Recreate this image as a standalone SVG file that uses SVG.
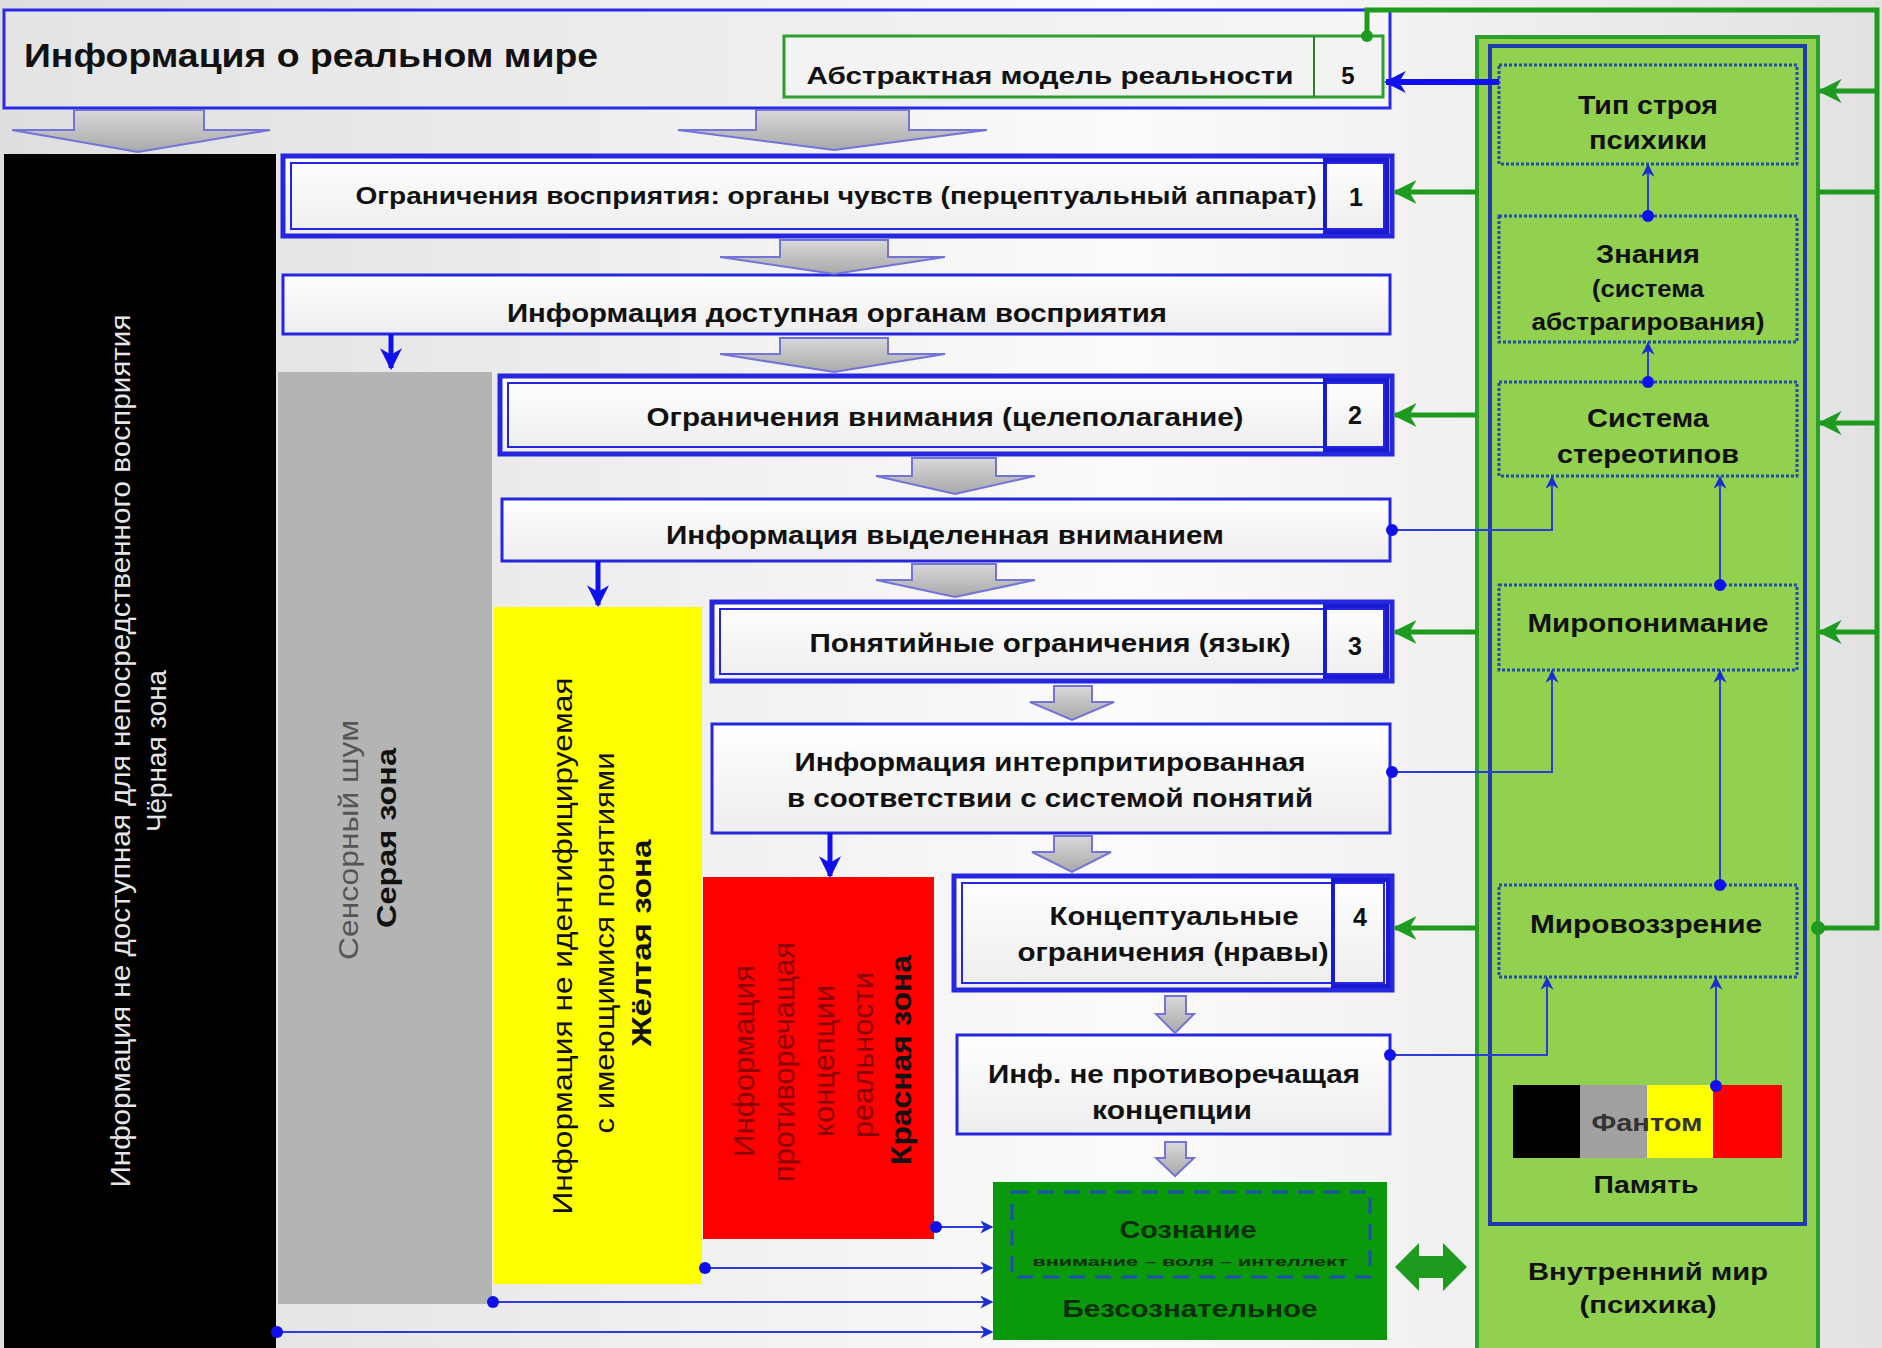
<svg xmlns="http://www.w3.org/2000/svg" width="1882" height="1348" viewBox="0 0 1882 1348">
<defs>
  <linearGradient id="bg" x1="0" y1="0" x2="1" y2="0">
    <stop offset="0" stop-color="#dedede"/>
    <stop offset="0.6" stop-color="#fbfbfb"/>
    <stop offset="1" stop-color="#e2e2e2"/>
  </linearGradient>
  <linearGradient id="boxfill" x1="0" y1="0" x2="0" y2="1">
    <stop offset="0" stop-color="#ffffff"/>
    <stop offset="1" stop-color="#ededed"/>
  </linearGradient>
  <linearGradient id="topfill" x1="0" y1="0" x2="1" y2="0">
    <stop offset="0" stop-color="#e4e4e4"/>
    <stop offset="1" stop-color="#f6f6f6"/>
  </linearGradient>
  <linearGradient id="arrfill" x1="0" y1="0" x2="0" y2="1">
    <stop offset="0" stop-color="#d8d8d8"/>
    <stop offset="1" stop-color="#a9a9a9"/>
  </linearGradient>
  <marker id="ga" viewBox="0 0 10 10" refX="9" refY="5" markerWidth="24" markerHeight="24" markerUnits="userSpaceOnUse" orient="auto">
    <path d="M0,0 L10,5 L0,10 L3,5 z" fill="#1e9a1e"/>
  </marker>
  <marker id="ba" viewBox="0 0 10 10" refX="9" refY="5" markerWidth="22" markerHeight="22" markerUnits="userSpaceOnUse" orient="auto">
    <path d="M0,0 L10,5 L0,10 L3,5 z" fill="#1010ee"/>
  </marker>
  <marker id="bs" viewBox="0 0 10 10" refX="9" refY="5" markerWidth="13" markerHeight="13" markerUnits="userSpaceOnUse" orient="auto">
    <path d="M0,0 L10,5 L0,10 L3,5 z" fill="#1a2fd0"/>
  </marker>
</defs>
<style>
  .t{font-family:"Liberation Sans",Arial,sans-serif;font-weight:bold;fill:#111;}
  .r{font-family:"Liberation Sans",Arial,sans-serif;font-weight:normal;}
  .box{fill:url(#boxfill);stroke:#2626e0;stroke-width:3;}
  .cbox{fill:url(#boxfill);stroke:#2626e0;stroke-width:5;}
  .cin{fill:none;stroke:#2626e0;stroke-width:2;}
  .cell{fill:none;stroke:#1a1ad0;stroke-width:4;}
  .dot{fill:none;stroke:#1f4fa8;stroke-width:3;stroke-dasharray:3 2;}
  .garr{fill:none;stroke:#1e9a1e;stroke-width:5;}
  .bthin{fill:none;stroke:#2b3fd6;stroke-width:2;}
  .bthick{fill:none;stroke:#1010ee;stroke-width:5;}
  .bd{fill:#1010ee;}
  .gray{fill:url(#arrfill);stroke:#7474d8;stroke-width:2;}
</style>

<rect x="0" y="0" width="1882" height="1348" fill="url(#bg)"/>

<!-- zones -->
<g id="zone-black">
  <rect x="4" y="154" width="272" height="1194" fill="#000"/>
  <text class="r" transform="translate(130,751) rotate(-90)" text-anchor="middle" font-size="27" fill="#e6e6e6" textLength="873" lengthAdjust="spacingAndGlyphs">Информация не доступная для непосредственного восприятия</text>
  <text class="r" transform="translate(166,751) rotate(-90)" text-anchor="middle" font-size="27" fill="#e6e6e6" textLength="162" lengthAdjust="spacingAndGlyphs">Чёрная зона</text>
</g>
<g id="zone-gray">
  <rect x="278" y="372" width="214" height="932" fill="#b4b4b4"/>
  <text class="r" transform="translate(358,840) rotate(-90)" text-anchor="middle" font-size="28" fill="#555" textLength="240" lengthAdjust="spacingAndGlyphs">Сенсорный шум</text>
  <text class="t" transform="translate(396,838) rotate(-90)" text-anchor="middle" font-size="28" textLength="180" lengthAdjust="spacingAndGlyphs">Серая зона</text>
</g>
<g id="zone-yellow">
  <rect x="494" y="607" width="208" height="677" fill="#ffff00"/>
  <text class="r" transform="translate(572,946) rotate(-90)" text-anchor="middle" font-size="28" fill="#111" textLength="537" lengthAdjust="spacingAndGlyphs">Информация не идентифицируемая</text>
  <text class="r" transform="translate(614,943) rotate(-90)" text-anchor="middle" font-size="28" fill="#111" textLength="381" lengthAdjust="spacingAndGlyphs">с имеющимися  понятиями</text>
  <text class="t" transform="translate(651,943) rotate(-90)" text-anchor="middle" font-size="28" textLength="207" lengthAdjust="spacingAndGlyphs">Жёлтая зона</text>
</g>
<g id="zone-red">
  <rect x="703" y="877" width="231" height="362" fill="#ff0000"/>
  <text class="r" transform="translate(754,1061) rotate(-90)" text-anchor="middle" font-size="30" fill="#8a0000" textLength="192" lengthAdjust="spacingAndGlyphs">Информация</text>
  <text class="r" transform="translate(794,1062) rotate(-90)" text-anchor="middle" font-size="30" fill="#8a0000" textLength="240" lengthAdjust="spacingAndGlyphs">противоречащая</text>
  <text class="r" transform="translate(834,1061) rotate(-90)" text-anchor="middle" font-size="30" fill="#8a0000" textLength="152" lengthAdjust="spacingAndGlyphs">концепции</text>
  <text class="r" transform="translate(873,1055) rotate(-90)" text-anchor="middle" font-size="30" fill="#8a0000" textLength="166" lengthAdjust="spacingAndGlyphs">реальности</text>
  <text class="t" transform="translate(911,1060) rotate(-90)" text-anchor="middle" font-size="30" fill="#1a0000" textLength="210" lengthAdjust="spacingAndGlyphs">Красная зона</text>
</g>

<!-- top box -->
<g id="real-world">
  <rect x="4" y="10" width="1386" height="98" fill="url(#topfill)" stroke="#2a2ae6" stroke-width="3"/>
  <text class="t" x="24" y="67" font-size="34" textLength="574" lengthAdjust="spacingAndGlyphs">Информация о реальном мире</text>
</g>
<g id="abstract-model">
  <rect x="784" y="36" width="599" height="61" fill="#f3f3f3" stroke="#2e9e2e" stroke-width="3"/>
  <line x1="1314" y1="36" x2="1314" y2="97" stroke="#2e7e2e" stroke-width="2"/>
  <text class="t" x="1050" y="84" text-anchor="middle" font-size="24" textLength="487" lengthAdjust="spacingAndGlyphs">Абстрактная  модель реальности</text>
  <text class="t" x="1348" y="84" text-anchor="middle" font-size="24">5</text>
</g>

<!-- constraint 1 -->
<g id="box1">
  <rect class="cbox" x="283" y="156" width="1109" height="80"/>
  <rect class="cin" x="291" y="163" width="1093" height="66"/>
  <rect class="cell" x="1325" y="160" width="62" height="72"/>
  <text class="t" x="836" y="204" text-anchor="middle" font-size="24" textLength="961" lengthAdjust="spacingAndGlyphs">Ограничения восприятия: органы чувств  (перцептуальный аппарат)</text>
  <text class="t" x="1356" y="206" text-anchor="middle" font-size="25">1</text>
</g>
<g id="info1">
  <rect class="box" x="283" y="275" width="1107" height="59"/>
  <text class="t" x="837" y="322" text-anchor="middle" font-size="25" textLength="660" lengthAdjust="spacingAndGlyphs">Информация доступная органам восприятия</text>
</g>
<g id="box2">
  <rect class="cbox" x="500" y="376" width="892" height="78"/>
  <rect class="cin" x="508" y="383" width="876" height="64"/>
  <rect class="cell" x="1325" y="380" width="62" height="70"/>
  <text class="t" x="945" y="426" text-anchor="middle" font-size="25" textLength="597" lengthAdjust="spacingAndGlyphs">Ограничения внимания (целеполагание)</text>
  <text class="t" x="1355" y="424" text-anchor="middle" font-size="25">2</text>
</g>
<g id="info2">
  <rect class="box" x="502" y="499" width="888" height="62"/>
  <text class="t" x="945" y="544" text-anchor="middle" font-size="25" textLength="558" lengthAdjust="spacingAndGlyphs">Информация выделенная вниманием</text>
</g>
<g id="box3">
  <rect class="cbox" x="712" y="602" width="680" height="79"/>
  <rect class="cin" x="720" y="609" width="664" height="65"/>
  <rect class="cell" x="1325" y="606" width="62" height="71"/>
  <text class="t" x="1050" y="652" text-anchor="middle" font-size="25" textLength="481" lengthAdjust="spacingAndGlyphs">Понятийные ограничения (язык)</text>
  <text class="t" x="1355" y="655" text-anchor="middle" font-size="25">3</text>
</g>
<g id="info3">
  <rect class="box" x="712" y="724" width="678" height="109"/>
  <text class="t" x="1050" y="771" text-anchor="middle" font-size="25" textLength="511" lengthAdjust="spacingAndGlyphs">Информация интерпритированная</text>
  <text class="t" x="1050" y="807" text-anchor="middle" font-size="25" textLength="526" lengthAdjust="spacingAndGlyphs">в соответствии  с системой понятий</text>
</g>
<g id="box4">
  <rect class="cbox" x="954" y="876" width="438" height="114"/>
  <rect class="cin" x="962" y="883" width="422" height="100"/>
  <rect class="cell" x="1333" y="880" width="55" height="106"/>
  <text class="t" x="1174" y="925" text-anchor="middle" font-size="25" textLength="249" lengthAdjust="spacingAndGlyphs">Концептуальные</text>
  <text class="t" x="1173" y="961" text-anchor="middle" font-size="25" textLength="311" lengthAdjust="spacingAndGlyphs">ограничения (нравы)</text>
  <text class="t" x="1360" y="926" text-anchor="middle" font-size="25">4</text>
</g>
<g id="info5">
  <rect class="box" x="957" y="1035" width="433" height="99"/>
  <text class="t" x="1174" y="1083" text-anchor="middle" font-size="25" textLength="372" lengthAdjust="spacingAndGlyphs">Инф. не противоречащая</text>
  <text class="t" x="1172" y="1119" text-anchor="middle" font-size="25" textLength="160" lengthAdjust="spacingAndGlyphs">концепции</text>
</g>
<g id="consciousness">
  <rect x="993" y="1182" width="394" height="158" fill="#0a990a"/>
  <rect x="1012" y="1192" width="358" height="85" fill="none" stroke="#1f4fb5" stroke-width="3" stroke-dasharray="16 10"/>
  <text class="t" x="1188" y="1238" text-anchor="middle" font-size="23" fill="#0b2e0b" textLength="137" lengthAdjust="spacingAndGlyphs" style="fill:#0b2e0b">Сознание</text>
  <text class="t" x="1190" y="1266" text-anchor="middle" font-size="12" textLength="315" lengthAdjust="spacingAndGlyphs" style="fill:#0b2e0b">внимание – воля – интеллект</text>
  <text class="t" x="1190" y="1317" text-anchor="middle" font-size="23" textLength="255" lengthAdjust="spacingAndGlyphs" style="fill:#0b2e0b">Безсознательное</text>
</g>

<!-- inner world -->
<g id="inner-world">
  <rect x="1477" y="37" width="341" height="1330" fill="#92d050" stroke="#2ca02c" stroke-width="4"/>
  <rect x="1490" y="46" width="315" height="1178" fill="none" stroke="#1e3caa" stroke-width="4"/>
  <text class="t" x="1648" y="1280" text-anchor="middle" font-size="24" textLength="240" lengthAdjust="spacingAndGlyphs">Внутренний мир</text>
  <text class="t" x="1648" y="1313" text-anchor="middle" font-size="24" textLength="137" lengthAdjust="spacingAndGlyphs">(психика)</text>
</g>
<g id="psyche-type">
  <rect class="dot" x="1499" y="65" width="298" height="99"/>
  <text class="t" x="1648" y="114" text-anchor="middle" font-size="25" textLength="140" lengthAdjust="spacingAndGlyphs">Тип строя</text>
  <text class="t" x="1648" y="149" text-anchor="middle" font-size="25" textLength="118" lengthAdjust="spacingAndGlyphs">психики</text>
</g>
<g id="knowledge">
  <rect class="dot" x="1499" y="216" width="298" height="126"/>
  <text class="t" x="1648" y="263" text-anchor="middle" font-size="25" textLength="104" lengthAdjust="spacingAndGlyphs">Знания</text>
  <text class="t" x="1648" y="297" text-anchor="middle" font-size="23" textLength="112" lengthAdjust="spacingAndGlyphs">(система</text>
  <text class="t" x="1648" y="330" text-anchor="middle" font-size="23" textLength="233" lengthAdjust="spacingAndGlyphs">абстрагирования)</text>
</g>
<g id="stereotypes">
  <rect class="dot" x="1499" y="382" width="298" height="94"/>
  <text class="t" x="1648" y="427" text-anchor="middle" font-size="25" textLength="122" lengthAdjust="spacingAndGlyphs">Система</text>
  <text class="t" x="1648" y="463" text-anchor="middle" font-size="25" textLength="182" lengthAdjust="spacingAndGlyphs">стереотипов</text>
</g>
<g id="world-understanding">
  <rect class="dot" x="1499" y="585" width="298" height="85"/>
  <text class="t" x="1648" y="632" text-anchor="middle" font-size="25" textLength="241" lengthAdjust="spacingAndGlyphs">Миропонимание</text>
</g>
<g id="worldview">
  <rect class="dot" x="1499" y="885" width="298" height="92"/>
  <text class="t" x="1646" y="933" text-anchor="middle" font-size="25" textLength="232" lengthAdjust="spacingAndGlyphs">Мировоззрение</text>
</g>
<g id="memory">
  <rect x="1513" y="1085" width="67" height="73" fill="#000"/>
  <rect x="1580" y="1085" width="67" height="73" fill="#a0a0a0"/>
  <rect x="1647" y="1085" width="66" height="73" fill="#ffff00"/>
  <rect x="1713" y="1085" width="69" height="73" fill="#ff0000"/>
  <text class="t" x="1647" y="1131" text-anchor="middle" font-size="24" textLength="111" lengthAdjust="spacingAndGlyphs" style="fill:#333">Фантом</text>
  <text class="t" x="1646" y="1193" text-anchor="middle" font-size="24" textLength="105" lengthAdjust="spacingAndGlyphs">Память</text>
</g>

<!-- connectors -->
<g id="connectors">
  <!-- gray block arrows -->
  <polygon class="gray" points="74,110 204,110 204,130 270,130 138,152 12,130 74,130"/>
  <polygon class="gray" points="756,110 909,110 909,130 987,130 834,150 678,130 756,130"/>
  <polygon class="gray" points="780,240 888,240 888,257 945,257 834,274 720,257 780,257"/>
  <polygon class="gray" points="780,338 888,338 888,354 945,354 834,372 720,354 780,354"/>
  <polygon class="gray" points="912,458 996,458 996,476 1035,476 955,494 876,476 912,476"/>
  <polygon class="gray" points="912,564 996,564 996,580 1035,580 955,597 876,580 912,580"/>
  <polygon class="gray" points="1054,686 1092,686 1092,702 1114,702 1072,720 1030,702 1054,702"/>
  <polygon class="gray" points="1054,836 1092,836 1092,852 1111,852 1072,872 1032,852 1054,852"/>
  <polygon class="gray" points="1165,996 1186,996 1186,1014 1194,1014 1175,1033 1156,1014 1165,1014"/>
  <polygon class="gray" points="1165,1142 1186,1142 1186,1158 1194,1158 1175,1176 1156,1158 1165,1158"/>

  <!-- blue thick down arrows -->
  <line class="bthick" x1="391" y1="334" x2="391" y2="368" marker-end="url(#ba)"/>
  <line class="bthick" x1="598" y1="561" x2="598" y2="605" marker-end="url(#ba)"/>
  <line class="bthick" x1="830" y1="833" x2="830" y2="876" marker-end="url(#ba)"/>

  <!-- zone to consciousness -->
  <line class="bthin" x1="936" y1="1227" x2="992" y2="1227" marker-end="url(#bs)"/>
  <line class="bthin" x1="705" y1="1268" x2="992" y2="1268" marker-end="url(#bs)"/>
  <line class="bthin" x1="493" y1="1302" x2="992" y2="1302" marker-end="url(#bs)"/>
  <line class="bthin" x1="277" y1="1332" x2="992" y2="1332" marker-end="url(#bs)"/>
  <circle class="bd" cx="936" cy="1227" r="6"/>
  <circle class="bd" cx="705" cy="1268" r="6"/>
  <circle class="bd" cx="493" cy="1302" r="6"/>
  <circle class="bd" cx="277" cy="1332" r="6"/>

  <!-- info boxes to inner world -->
  <polyline class="bthin" points="1392,530 1552,530 1552,477" marker-end="url(#bs)"/>
  <polyline class="bthin" points="1392,772 1552,772 1552,671" marker-end="url(#bs)"/>
  <polyline class="bthin" points="1390,1055 1547,1055 1547,978" marker-end="url(#bs)"/>
  <circle class="bd" cx="1392" cy="530" r="6"/>
  <circle class="bd" cx="1392" cy="772" r="6"/>
  <circle class="bd" cx="1390" cy="1055" r="6"/>

  <!-- inside inner world -->
  <line class="bthin" x1="1648" y1="216" x2="1648" y2="165" marker-end="url(#bs)"/>
  <line class="bthin" x1="1648" y1="382" x2="1648" y2="343" marker-end="url(#bs)"/>
  <line class="bthin" x1="1720" y1="585" x2="1720" y2="477" marker-end="url(#bs)"/>
  <line class="bthin" x1="1720" y1="885" x2="1720" y2="671" marker-end="url(#bs)"/>
  <line class="bthin" x1="1716" y1="1086" x2="1716" y2="978" marker-end="url(#bs)"/>
  <circle class="bd" cx="1648" cy="216" r="6"/>
  <circle class="bd" cx="1648" cy="382" r="6"/>
  <circle class="bd" cx="1720" cy="585" r="6"/>
  <circle class="bd" cx="1720" cy="885" r="6"/>
  <circle class="bd" cx="1716" cy="1086" r="6"/>

  <!-- psyche type to abstract model -->
  <line x1="1499" y1="82" x2="1386" y2="82" stroke="#1010ee" stroke-width="6" marker-end="url(#ba)"/>

  <!-- green loop -->
  <path class="garr" d="M1367,36 V10 H1877 V928 H1818"/>
  <circle cx="1367" cy="36" r="6" fill="#1e9a1e"/>
  <circle cx="1818" cy="928" r="7" fill="#1e9a1e"/>
  <line class="garr" x1="1877" y1="91" x2="1820" y2="91" marker-end="url(#ga)"/>
  <line class="garr" x1="1877" y1="192" x2="1818" y2="192"/>
  <line class="garr" x1="1877" y1="423" x2="1820" y2="423" marker-end="url(#ga)"/>
  <line class="garr" x1="1877" y1="632" x2="1820" y2="632" marker-end="url(#ga)"/>

  <!-- green arrows to constraints -->
  <line class="garr" x1="1477" y1="192" x2="1395" y2="192" marker-end="url(#ga)"/>
  <line class="garr" x1="1477" y1="415" x2="1395" y2="415" marker-end="url(#ga)"/>
  <line class="garr" x1="1477" y1="632" x2="1395" y2="632" marker-end="url(#ga)"/>
  <line class="garr" x1="1477" y1="928" x2="1395" y2="928" marker-end="url(#ga)"/>

  <!-- double arrow -->
  <polygon points="1395,1267 1419,1243 1419,1256 1443,1256 1443,1243 1467,1267 1443,1291 1443,1278 1419,1278 1419,1291" fill="#1e9a1e"/>
</g>
</svg>
